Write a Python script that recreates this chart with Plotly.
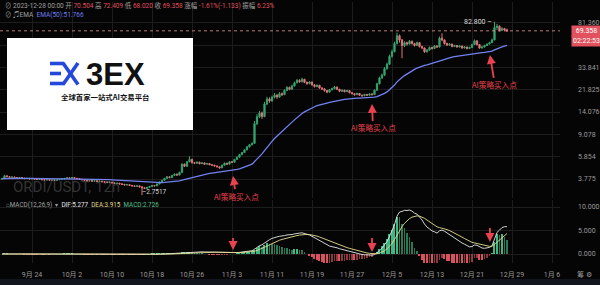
import numpy as np
import pandas as pd
import plotly.graph_objects as go

# ---------------- data ----------------
start_time = "2023-09-18 00:00"
first_open = 3.76
closes = [
    3.80, 4.02, 3.95, 3.90, 3.93, 3.88, 3.85, 3.89, 3.84, 3.80,
    3.83, 3.78, 3.80, 3.76, 3.74, 3.77, 3.72, 3.70, 3.73, 3.69,
    3.71, 3.68, 3.72, 3.75, 3.78, 3.82, 3.86, 3.84, 3.88, 3.83,
    3.80, 3.76, 3.72, 3.68, 3.64, 3.66, 3.62, 3.65, 3.60, 3.62,
    3.58, 3.55, 3.52, 3.55, 3.50, 3.46, 3.48, 3.43, 3.40, 3.36,
    3.38, 3.33, 3.30, 3.27, 3.30, 3.24, 3.18, 3.14, 3.20, 3.26,
    3.32, 3.30, 3.42, 3.55, 3.68, 3.82, 3.94, 3.88, 4.05, 4.15,
    4.08, 4.30, 5.05, 4.85, 5.30, 5.55, 5.20, 5.15, 5.25, 5.10,
    5.18, 5.05, 5.12, 5.00, 4.95, 4.88, 4.80, 4.70, 4.95, 5.15,
    5.05, 5.30, 5.25, 5.55, 5.80, 6.10, 6.35, 6.70, 7.10, 7.40,
    7.60, 11.20, 12.80, 13.80, 12.90, 16.50, 18.20, 17.50, 18.80, 19.60,
    18.90, 20.20, 19.80, 21.50, 22.80, 22.00, 23.50, 25.00, 26.20, 25.50,
    26.80, 25.20, 24.60, 25.40, 24.00, 23.20, 23.80, 22.60, 22.20, 21.50,
    20.80, 21.80, 22.30, 23.00, 22.00, 21.20, 21.60, 21.00, 21.40, 20.60,
    20.20, 19.80, 20.30, 19.60, 19.40, 19.90, 19.60, 20.10, 19.80, 21.60,
    24.50, 27.50, 29.00, 33.00, 36.00, 42.00, 46.00, 54.00, 63.00, 58.00,
    52.00, 55.00, 53.50, 56.50, 54.00, 52.00, 55.00, 51.00, 49.50, 46.00,
    47.50, 50.00, 49.00, 51.50, 50.50, 60.00, 58.00, 54.00, 52.50, 53.50,
    51.00, 52.00, 50.50, 51.50, 49.50, 50.50, 49.00, 50.00, 53.00, 57.00,
    53.00, 49.50, 50.50, 52.00, 53.50, 55.00, 58.00, 74.00, 76.00, 70.00,
    72.50, 70.504, 69.358,
]
highs = [
    3.84, 4.10, 4.05, 3.98, 3.96, 3.95, 3.91, 3.92, 3.91, 3.86,
    3.86, 3.85, 3.83, 3.82, 3.79, 3.80, 3.79, 3.75, 3.76, 3.75,
    3.74, 3.73, 3.75, 3.78, 3.81, 3.86, 3.92, 3.89, 3.93, 3.90,
    3.85, 3.82, 3.78, 3.74, 3.70, 3.69, 3.68, 3.68, 3.67, 3.65,
    3.64, 3.61, 3.58, 3.58, 3.57, 3.52, 3.51, 3.50, 3.46, 3.42,
    3.41, 3.40, 3.35, 3.32, 3.33, 3.31, 3.26, 3.21, 3.23, 3.29,
    3.36, 3.36, 3.46, 3.59, 3.72, 3.86, 3.99, 3.98, 4.10, 4.22,
    4.20, 4.36, 5.15, 5.12, 5.38, 5.90, 5.62, 5.28, 5.32, 5.30,
    5.24, 5.22, 5.18, 5.15, 5.05, 4.99, 4.92, 4.84, 5.00, 5.22,
    5.19, 5.36, 5.38, 5.60, 5.86, 6.18, 6.42, 6.80, 7.20, 7.52,
    7.75, 11.80, 13.50, 14.40, 14.20, 17.20, 19.00, 18.80, 19.40, 20.50,
    20.00, 20.80, 20.70, 22.00, 23.40, 23.20, 24.10, 25.60, 27.00, 26.80,
    27.60, 27.00, 25.60, 25.90, 25.60, 24.30, 24.20, 24.00, 22.90, 22.40,
    21.70, 22.10, 22.70, 23.50, 23.20, 22.20, 21.90, 21.80, 21.70, 21.50,
    20.80, 20.40, 20.50, 20.40, 19.80, 20.10, 20.00, 20.30, 20.30, 21.90,
    25.00, 28.20, 30.00, 34.00, 37.20, 43.50, 48.00, 56.00, 67.00, 64.50,
    59.00, 56.50, 56.00, 58.00, 57.20, 54.80, 56.00, 55.50, 51.80, 50.00,
    48.50, 51.00, 50.80, 52.50, 52.20, 62.00, 66.00, 58.50, 55.00, 54.50,
    54.00, 52.80, 52.50, 52.20, 51.80, 51.20, 50.80, 50.80, 54.00, 58.50,
    57.50, 53.50, 51.20, 52.80, 54.20, 56.00, 59.50, 82.80, 79.50, 77.00,
    74.50, 73.50, 72.409,
]
lows = [
    3.73, 3.78, 3.92, 3.87, 3.87, 3.85, 3.82, 3.83, 3.81, 3.77,
    3.78, 3.75, 3.76, 3.73, 3.71, 3.72, 3.69, 3.67, 3.68, 3.66,
    3.67, 3.65, 3.66, 3.70, 3.73, 3.76, 3.80, 3.81, 3.82, 3.80,
    3.77, 3.73, 3.69, 3.65, 3.61, 3.62, 3.59, 3.60, 3.57, 3.58,
    3.55, 3.52, 3.49, 3.50, 3.47, 3.43, 3.44, 3.40, 3.37, 3.33,
    3.33, 3.30, 3.27, 3.24, 3.25, 3.20, 2.7517, 3.10, 3.11, 3.17,
    3.23, 3.27, 3.28, 3.40, 3.52, 3.65, 3.79, 3.84, 3.85, 4.01,
    4.03, 4.05, 4.26, 4.78, 4.82, 5.25, 5.12, 5.08, 5.10, 5.05,
    5.06, 5.00, 5.01, 4.95, 4.90, 4.83, 4.75, 4.62, 4.67, 4.92,
    5.00, 5.02, 5.18, 5.22, 5.50, 5.75, 6.02, 6.30, 6.62, 7.00,
    7.30, 7.55, 10.90, 12.50, 12.30, 12.70, 16.10, 16.90, 17.20, 18.40,
    18.30, 18.60, 19.30, 19.60, 21.20, 21.60, 21.80, 23.20, 24.70, 25.00,
    25.20, 24.80, 24.00, 24.30, 23.60, 22.80, 22.90, 22.20, 21.70, 21.00,
    20.40, 20.60, 21.50, 22.00, 21.70, 20.80, 20.90, 20.70, 20.80, 20.30,
    19.90, 19.40, 19.60, 19.30, 19.00, 19.20, 19.30, 19.40, 19.50, 19.70,
    21.40, 24.20, 27.00, 28.60, 32.40, 35.50, 41.00, 45.50, 53.00, 55.00,
    40.50, 50.50, 52.00, 53.00, 53.00, 51.00, 51.50, 50.00, 48.50, 45.00,
    45.20, 47.00, 48.00, 48.50, 49.80, 50.00, 56.50, 53.00, 51.50, 51.80,
    50.20, 50.40, 49.80, 50.00, 48.80, 49.00, 48.20, 48.60, 49.60, 52.50,
    52.00, 48.80, 49.00, 50.00, 51.50, 53.00, 54.50, 57.50, 70.50, 68.50,
    69.00, 69.50, 68.020,
]

price_ticks = [3.775, 5.854, 9.078, 14.076, 21.825, 33.841, 52.473, 81.360]
hidden_price_ticks = [52.473]          # covered by the countdown tag in the reference
macd_ticks = [0, 5, 10]
date_ticks = ["2023-09-24", "2023-10-02", "2023-10-10", "2023-10-18", "2023-10-26",
              "2023-11-03", "2023-11-11", "2023-11-19", "2023-11-27", "2023-12-05",
              "2023-12-13", "2023-12-21", "2023-12-29", "2024-01-06"]
date_labels = ["9月 24", "10月 2", "10月 10", "10月 18", "10月 26", "11月 3", "11月 11",
               "11月 19", "11月 27", "12月 5", "12月 13", "12月 21", "12月 29", "1月 6"]
signal_dates = ["2023-11-03 05:00", "2023-12-01 00:00", "2023-12-24 14:00"]
signal_price_heads = [4.0, 16.5, 43.2]
signal_macd_heads = [0.85, 0.43, 2.55]
legend_ohlc = ("2023-12-28 00:00", "70.504", "72.409", "68.020", "69.358", "-1.61%(-1.133)", "6.23%")
ema_label = "51.766"
macd_label = ("5.277", "3.915", "2.726")
countdown = "02:22:53"

# ---------------- derived ----------------
t = pd.date_range(start_time, periods=len(closes), freq="12h")
opens = [first_open] + closes[:-1]

def ema(vals, n):
    a = 2.0 / (n + 1)
    out = []
    e = vals[0]
    for v in vals:
        e = a * v + (1 - a) * e
        out.append(e)
    return np.array(out)

c = np.array(closes)
ema50 = ema(c, 50)
dif = ema(c, 12) - ema(c, 26)
dea = ema(dif, 9)
hist = 2 * (dif - dea)

GREEN = "#35a66f"
RED = "#e5737b"
HG = "#3db884"
HR = "#d9525e"
hist_colors = []
for k, h in enumerate(hist):
    prev = hist[k - 1] if k > 0 else 0
    if h >= 0:
        hist_colors.append(HG if h >= prev else "rgba(61,184,132,0.65)")
    else:
        hist_colors.append(HR if h <= prev else "rgba(217,82,94,0.65)")

x_range = [pd.Timestamp("2023-09-17 14:24"), pd.Timestamp("2024-01-07 14:24")]

fig = go.Figure()
fig.add_trace(go.Candlestick(
    x=t, open=opens, high=highs, low=lows, close=closes,
    increasing=dict(line=dict(color=GREEN, width=1), fillcolor=GREEN),
    decreasing=dict(line=dict(color=RED, width=1), fillcolor=RED),
    whiskerwidth=0, xaxis="x", yaxis="y", hoverinfo="skip", showlegend=False))
fig.add_trace(go.Scatter(x=t, y=ema50, mode="lines", line=dict(color="#7282f2", width=1.3),
                         xaxis="x", yaxis="y", hoverinfo="skip", showlegend=False))
fig.add_trace(go.Scatter(x=x_range, y=[closes[-1]] * 2, mode="lines",
                         line=dict(color="rgba(230,150,150,0.8)", width=1, dash="dot"),
                         xaxis="x", yaxis="y", hoverinfo="skip", showlegend=False))
fig.add_trace(go.Bar(x=t, y=hist, marker=dict(color=hist_colors, line=dict(width=0)),
                     width=43200000 * 0.62, xaxis="x", yaxis="y2", hoverinfo="skip", showlegend=False))
fig.add_trace(go.Scatter(x=t, y=dif, mode="lines", line=dict(color="#e6e6e6", width=0.9),
                         xaxis="x", yaxis="y2", hoverinfo="skip", showlegend=False))
fig.add_trace(go.Scatter(x=t, y=dea, mode="lines", line=dict(color="#e2dc8c", width=0.9),
                         xaxis="x", yaxis="y2", hoverinfo="skip", showlegend=False))

W, H = 600, 285
def px(x):
    return x / W
def py(y):
    return (H - y) / H

FONT = "Roboto, Noto Sans CJK SC, sans-serif"
GRID = "#1d1d1d"
TICKC = "#9a9a9a"

fig.update_layout(
    width=W, height=H, margin=dict(l=0, r=0, t=0, b=0),
    paper_bgcolor="#050505", plot_bgcolor="#050505",
    font=dict(family=FONT, color=TICKC, size=7),
    bargap=0,
    xaxis=dict(domain=[0, 560 / 600], range=x_range, type="date", anchor="y2",
               tickvals=date_ticks, ticktext=date_labels, showgrid=True, gridcolor=GRID,
               gridwidth=1, zeroline=False, showline=False, ticks="",
               tickfont=dict(size=7, color=TICKC), rangeslider=dict(visible=False),
               ticklabelstandoff=6),
    yaxis=dict(domain=[py(198), py(2)], type="log", range=[np.log10(2.60), np.log10(122.2)],
               side="right", anchor="x", tickvals=price_ticks,
               ticktext=["" if v in hidden_price_ticks else f"{v:.3f}" for v in price_ticks],
               showgrid=True, gridcolor=GRID,
               zeroline=False, showline=False, ticks="", ticklabelstandoff=17,
               tickfont=dict(size=7, color=TICKC)),
    yaxis2=dict(domain=[py(263), py(200)], range=[-1.915, 11.49], side="right", anchor="x",
                tickvals=macd_ticks, ticktext=[f"{v:.3f}" for v in macd_ticks],
                showgrid=True, gridcolor=GRID, zeroline=False, showline=False, ticks="",
                ticklabelstandoff=17, tickfont=dict(size=7, color=TICKC)),
)

BLUE = "#2348db"
def seg(x0, y0, x1, y1, w=3.6):
    return dict(type="line", xref="paper", yref="paper", x0=px(x0), y0=py(y0), x1=px(x1), y1=py(y1),
                line=dict(color=BLUE, width=w), layer="above")

shapes = [
    dict(type="rect", xref="paper", yref="paper", x0=px(7), x1=px(193), y0=py(130), y1=py(38),
         fillcolor="white", line=dict(width=0), layer="above"),
    dict(type="rect", xref="paper", yref="paper", x0=0, x1=1, y0=0, y1=py(279),
         fillcolor="#12151d", line=dict(width=0), layer="below"),
    # blue "EX" mark of the logo
    seg(50, 63.5, 64, 63.5), seg(50, 73.5, 61, 73.5), seg(50, 83.5, 64, 83.5),
    seg(63, 63, 78, 84.5), seg(78, 63, 63, 84.5),
]
fig.update_layout(shapes=shapes)

ann = []
RV = "#e0505f"
GRAY = "#a0a0a0"
o = legend_ohlc
line1 = (f"<span style='color:{GRAY}'>⊘ {o[0]}</span> 开 <span style='color:{RV}'>{o[1]}</span> "
         f"高 <span style='color:{RV}'>{o[2]}</span> 低 <span style='color:{RV}'>{o[3]}</span> "
         f"收 <span style='color:{RV}'>{o[4]}</span> 涨幅 <span style='color:{RV}'>{o[5]}</span> "
         f"振幅 <span style='color:{RV}'>{o[6]}</span>")
ann.append(dict(xref="paper", yref="paper", x=px(3), y=py(6), xanchor="left", yanchor="middle",
                text=line1, showarrow=False, font=dict(size=6.5, color=GRAY, family=FONT)))
ann.append(dict(xref="paper", yref="paper", x=px(3), y=py(14), xanchor="left", yanchor="middle",
                text=f"⊘ ♫EMA  <span style='color:#6f7ff0'>EMA(50):{ema_label}</span>",
                showarrow=False, font=dict(size=6.5, color=GRAY, family=FONT)))
ann.append(dict(xref="paper", yref="paper", x=px(4), y=py(205), xanchor="left", yanchor="middle",
                text=(f"⌂MACD(12,26,9)  ▾  <span style='color:#e8e8e8'>DIF:{macd_label[0]}</span>  "
                      f"<span style='color:#e0d98a'>DEA:{macd_label[1]}</span>  "
                      f"<span style='color:#4fc08d'>MACD:{macd_label[2]}</span>"),
                showarrow=False, font=dict(size=6.3, color=GRAY, family=FONT)))
# watermark
ann.append(dict(xref="paper", yref="paper", x=px(11), y=py(187), xanchor="left", yanchor="middle",
                text="ORDI/USDT, 12h", showarrow=False,
                font=dict(size=15, color="rgba(110,110,110,0.45)", family="Roboto, sans-serif")))
# logo text
ann.append(dict(xref="paper", yref="paper", x=px(84), y=py(74), xanchor="left", yanchor="middle",
                text="<b>3EX</b>", showarrow=False,
                font=dict(size=31, color="#111111", family="Liberation Sans, Arial, sans-serif")))
ann.append(dict(xref="paper", yref="paper", x=px(105), y=py(96), xanchor="center", yanchor="middle",
                text="<b>全球首家一站式AI交易平台</b>", showarrow=False,
                font=dict(size=7.4, color="#111111", family="Noto Sans CJK SC, sans-serif")))
# price tags on the right
ann.append(dict(xref="paper", yref="paper", x=px(586), y=py(30.5), xanchor="center", yanchor="middle",
                text=f"{closes[-1]:.3f}", showarrow=False, bgcolor="#e2525e", width=27, height=8,
                font=dict(size=7, color="white", family=FONT)))
ann.append(dict(xref="paper", yref="paper", x=px(586), y=py(40.5), xanchor="center", yanchor="middle",
                text=countdown, showarrow=False, bgcolor="#e2525e", width=27, height=8,
                font=dict(size=7, color="white", family=FONT)))
# high / low markers
ih = int(np.argmax(highs)); il = int(np.argmin(lows))
ann.append(dict(xref="x", yref="y", x=t[ih], y=np.log10(highs[ih]), xanchor="right", yanchor="middle",
                text=f"{highs[ih]:.3f} –", showarrow=False, xshift=-1,
                font=dict(size=7, color="#d8d8d8", family=FONT)))
ann.append(dict(xref="x", yref="y", x=t[il], y=np.log10(lows[il]), xanchor="left", yanchor="middle",
                text=f"–{lows[il]:.4f}", showarrow=False, xshift=-2, yshift=3,
                font=dict(size=6.5, color="#d8d8d8", family=FONT)))
# AI signals
ARROW = "#e8424f"
price_ay = [20, 24, 30]
price_ax = [3, 1, 5]
for d, hv, ay, ax in zip(signal_dates, signal_price_heads, price_ay, price_ax):
    ann.append(dict(xref="x", yref="y", x=d, y=np.log10(hv), text="AI策略买入点", showarrow=True,
                    arrowhead=2, arrowsize=1, arrowwidth=1.8, arrowcolor=ARROW, ax=ax, ay=ay,
                    font=dict(size=7.6, color=ARROW, family="Noto Sans CJK SC, sans-serif")))
macd_ay = [-14, -16, -16]
for d, hv, ay in zip(signal_dates, signal_macd_heads, macd_ay):
    ann.append(dict(xref="x", yref="y2", x=d, y=hv, text=" ", showarrow=True,
                    arrowhead=2, arrowsize=1, arrowwidth=1.8, arrowcolor=ARROW, ax=0, ay=ay,
                    font=dict(size=1, color=ARROW)))
ann.append(dict(xref="paper", yref="paper", x=px(584), y=py(274), xanchor="center", yanchor="middle",
                text="筹 ⚙", showarrow=False, font=dict(size=7, color=TICKC, family=FONT)))
fig.update_layout(annotations=ann)

fig.write_html("out.html")
